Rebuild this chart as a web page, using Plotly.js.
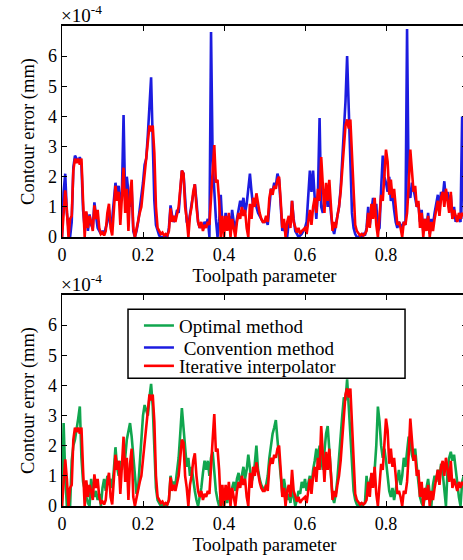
<!DOCTYPE html>
<html><head><meta charset="utf-8">
<script src="https://cdn.plot.ly/plotly-3.0.1.min.js"></script>
<style>html,body{margin:0;padding:0;overflow:hidden;background:#fff}#chart{width:480px;height:560px}</style>
</head><body><div id="chart"></div>
<script>
// Toolpath parameter sampling step (data sampled uniformly from 0 to 1)
const STEP = 0.004;
const xTickVals = [0, 0.2, 0.4, 0.6, 0.8, 1];
const xTickText = ['0', '0.2', '0.4', '0.6', '0.8', '1'];
const yTickVals = [0, 1, 2, 3, 4, 5, 6];
const nameOptimal = 'Optimal method';
const nameConvention = '\u00a0Convention method';
const nameIterative = 'Iterative interpolator';

// Contour error, in units of 1e-4 mm
const convErr = [
0.0,1.5,2.1,0.8,0.3,0.0,0.5,2.3,2.7,2.6,2.5,2.65,2.4,0.9,0.3,0.8,0.2,0.75,0.4,0.3,1.15,0.7,0.3,0.2,0.1,
0.2,0.1,0.3,0.5,0.9,0.4,0.6,1.2,1.8,1.4,1.7,1.0,1.5,4.05,1.2,2.0,1.5,1.0,1.6,0.2,0.0,0.2,0.5,0.9,1.3,
1.8,2.4,2.6,3.4,4.6,5.3,3.2,1.2,0.4,0.2,0.05,0.0,0.0,0.0,0.05,0.0,0.3,1.05,0.7,0.5,0.6,0.9,0.8,1.5,2.2,
2.1,1.2,0.5,0.4,0.8,1.1,1.4,1.75,1.2,0.5,0.3,0.4,0.3,0.5,0.4,0.6,0.0,6.8,2.5,1.5,0.6,0.0,0.5,1.4,0.4,
0.2,0.8,0.4,0.7,0.2,0.9,0.5,0.3,0.6,0.9,1.2,1.0,1.3,0.8,1.1,1.6,2.1,1.5,1.0,1.2,1.0,0.8,0.7,0.6,0.5,
0.5,0.6,0.4,1.1,1.6,1.5,1.8,1.7,2.1,1.9,0.9,0.2,0.4,0.1,0.0,0.5,0.4,1.2,0.6,0.2,0.1,0.0,0.05,0.1,0.2,
0.3,0.5,1.2,2.2,1.5,2.2,1.3,0.6,1.5,3.95,1.0,0.8,1.2,1.5,1.0,1.4,0.8,0.3,0.1,0.4,0.7,1.0,1.6,2.5,3.2,
4.5,6.0,4.2,2.2,0.8,0.3,0.1,0.0,0.0,0.05,0.0,0.1,0.05,0.3,1.0,0.4,0.9,1.3,0.7,1.1,0.2,0.3,1.6,2.7,2.0,
1.8,1.5,2.0,1.2,1.4,0.9,0.5,0.3,0.5,0.4,0.3,0.5,0.4,6.9,1.5,1.3,1.8,1.6,1.3,1.0,1.1,0.5,0.9,0.2,0.6,
0.3,0.8,0.1,0.6,0.4,0.8,1.1,1.4,0.9,1.5,1.3,1.85,1.2,1.5,1.0,1.4,0.6,1.0,0.5,0.7,0.6,0.5,4.0,0.6,0.8,0.7
];
const iterErr = [
0.0,1.0,1.55,0.9,0.0,0.6,0.7,2.2,2.6,2.45,2.6,2.4,2.6,1.2,0.0,0.85,0.3,0.7,0.5,0.2,1.05,0.6,0.9,0.3,0.1,
0.15,0.05,0.2,0.8,1.1,0.3,0.05,0.9,1.7,1.2,1.5,0.4,1.6,2.3,0.8,1.6,0.2,1.4,1.9,0.3,0.0,0.3,0.6,0.8,1.0,
1.5,2.2,2.5,3.2,3.7,3.5,3.7,2.8,1.0,0.3,0.2,0.1,0.15,0.05,0.1,0.05,0.2,0.95,0.5,0.7,0.5,0.8,1.0,1.6,2.2,
2.1,1.0,0.6,0.0,0.7,1.0,1.5,1.75,1.0,0.5,0.3,0.5,0.2,0.4,0.3,0.5,0.4,1.5,2.2,3.05,1.8,1.9,1.2,0.0,0.7,
0.0,0.7,0.2,0.8,0.0,0.6,0.3,0.0,0.5,0.8,0.6,1.0,0.7,0.9,0.3,0.0,1.1,0.6,1.3,1.0,1.45,1.1,0.8,0.6,0.5,
0.5,0.7,0.5,1.3,1.6,1.4,1.7,1.6,1.9,2.0,1.2,0.3,0.6,0.0,0.5,0.7,0.3,1.2,0.5,0.3,0.15,0.3,0.1,0.2,0.25,
0.3,0.1,0.6,0.9,0.4,1.0,1.3,0.8,1.6,1.2,2.65,1.5,0.8,1.8,1.2,1.9,0.9,0.2,0.5,0.3,0.7,1.0,1.5,2.2,3.0,
3.7,3.9,3.6,3.9,2.8,1.4,0.4,0.2,0.1,0.05,0.1,0.05,0.1,0.2,0.8,0.3,1.1,0.6,1.3,0.4,0.0,0.6,1.4,1.2,2.2,
2.9,2.5,1.4,1.9,1.3,1.6,0.9,0.4,0.5,0.3,0.0,0.5,0.4,0.8,1.7,2.9,2.2,1.5,1.7,1.0,1.2,0.3,0.8,0.0,0.6,
0.2,0.7,0.0,0.5,0.2,0.6,0.9,1.2,0.7,1.3,1.5,1.0,1.6,1.1,0.8,1.5,0.6,0.9,0.7,0.5,0.8,0.6,0.8,0.7,0.9,0.7
];
const optErr = [
0.0,2.75,1.0,0.0,0.1,0.0,1.5,2.0,2.2,2.5,2.9,3.3,1.6,0.8,0.5,0.3,0.1,0.0,0.9,0.5,0.3,0.5,0.2,0.4,0.0,
0.6,0.9,0.5,1.0,0.7,0.9,0.6,1.2,1.95,1.3,1.0,1.5,1.2,1.8,1.6,2.2,2.5,2.75,2.3,1.7,0.9,0.4,0.6,1.5,2.4,
3.0,3.35,3.2,3.0,3.6,4.05,3.3,2.0,0.6,0.2,0.1,0.0,0.05,0.0,0.0,0.05,0.2,1.0,0.7,0.8,0.7,1.2,1.6,2.4,3.25,
2.6,1.8,1.3,1.6,1.0,1.3,0.8,0.5,0.2,0.0,0.3,0.6,1.1,1.5,1.2,1.5,1.0,1.6,1.8,1.2,0.5,0.2,0.0,0.3,0.1,
0.0,0.4,0.1,0.5,0.2,0.6,0.8,0.5,0.9,1.1,0.7,1.0,1.3,0.9,1.2,1.7,1.3,0.8,1.0,1.4,2.0,1.2,0.9,0.7,0.6,
0.5,0.7,1.0,1.6,2.0,2.4,2.6,2.85,2.2,1.5,0.9,0.4,0.9,0.5,0.2,0.4,0.1,0.6,0.3,0.0,0.2,0.5,0.4,0.8,0.6,
0.9,0.5,0.8,1.0,0.6,1.2,1.5,1.9,1.4,2.0,1.6,1.2,1.8,2.4,2.65,1.8,0.9,0.3,0.1,0.4,0.9,1.5,2.3,3.0,3.6,
3.5,4.2,3.3,2.2,1.2,0.5,0.2,0.05,0.0,0.1,0.0,0.05,0.1,1.0,0.4,0.8,1.0,0.7,1.2,2.0,3.3,2.8,2.0,1.6,1.9,
1.5,1.0,0.5,0.3,0.6,0.2,0.5,0.8,1.2,0.7,1.0,1.6,1.3,1.8,2.3,2.1,1.7,1.5,1.9,1.3,0.8,0.3,0.1,0.0,0.3,
0.6,0.9,0.4,0.0,0.7,1.0,0.8,1.2,0.9,1.4,1.1,0.5,0.0,1.2,1.6,1.8,1.5,1.7,1.2,0.9,0.3,0.0,0.8,1.0,0.9,0.8
];

const FONT = 'Liberation Serif, Times New Roman, serif';
const BLUE = '#1c1ce0', RED = '#ff0000', GREEN = '#10a64e';
const LW = 2.6;

const traces = [
  {type:'scatter', mode:'lines', x0:0, dx:STEP, y:convErr, xaxis:'x', yaxis:'y',
   name:nameConvention, legend:'legend2', line:{color:BLUE, width:LW}},
  {type:'scatter', mode:'lines', x0:0, dx:STEP, y:iterErr, xaxis:'x', yaxis:'y',
   name:nameIterative, showlegend:false, line:{color:RED, width:LW}},
  {type:'scatter', mode:'lines', x0:0, dx:STEP, y:optErr, xaxis:'x2', yaxis:'y2',
   name:nameOptimal, legend:'legend', line:{color:GREEN, width:LW}},
  {type:'scatter', mode:'lines', x0:0, dx:STEP, y:iterErr, xaxis:'x2', yaxis:'y2',
   name:nameIterative, legend:'legend3', line:{color:RED, width:LW}}
];

function xAxis(anchor) {
  return {anchor:anchor, domain:[0,1], range:[0,1], tickvals:xTickVals, ticktext:xTickText,
    ticks:'inside', ticklen:5, tickwidth:1, tickcolor:'#000', showline:true, linecolor:'#000',
    linewidth:2, mirror:'ticks', showgrid:false, zeroline:false, automargin:false,
    tickfont:{family:FONT, size:18, color:'#000'},
    title:{text:'Toolpath parameter', font:{family:FONT, size:18.5, color:'#000'}, standoff:5}};
}
function yAxis(anchor, domain) {
  return {anchor:anchor, domain:domain, range:[0,7], tickvals:yTickVals,
    ticks:'inside', ticklen:5, tickwidth:1, tickcolor:'#000', showline:true, linecolor:'#000',
    linewidth:1.5, mirror:'ticks', showgrid:false, zeroline:false, automargin:false,
    tickfont:{family:FONT, size:18, color:'#000'},
    title:{text:'Contour error (mm)', font:{family:FONT, size:18.5, color:'#000'}, standoff:8}};
}
function legendAt(y) {
  return {x:0.190, y:y, xanchor:'left', yanchor:'middle', bgcolor:'rgba(0,0,0,0)', borderwidth:0,
    font:{family:FONT, size:19, color:'#000'}};
}

const layout = {
  width:480, height:560,
  margin:{l:62, r:13, t:26, b:54},
  paper_bgcolor:'#fff', plot_bgcolor:'#fff',
  xaxis:xAxis('y'), yaxis:yAxis('x', [0.5604, 1]),
  xaxis2:xAxis('y2'), yaxis2:yAxis('x2', [0, 0.4396]),
  legend:legendAt(0.3756), legend2:legendAt(0.3298), legend3:legendAt(0.2917),
  shapes:[{type:'rect', xref:'paper', yref:'paper', x0:0.163, x1:0.847, y0:0.266, y1:0.41,
    fillcolor:'#fff', line:{color:'#000', width:1.5}, layer:'above'}],
  annotations:[
    {xref:'paper', yref:'paper', x:0, y:1, xanchor:'left', yanchor:'bottom', showarrow:false,
     xshift:-3, yshift:-2, text:'×10<sup>-4</sup>', font:{family:FONT, size:19, color:'#000'}},
    {xref:'paper', yref:'paper', x:0, y:0.4396, xanchor:'left', yanchor:'bottom', showarrow:false,
     xshift:-3, yshift:-2, text:'×10<sup>-4</sup>', font:{family:FONT, size:19, color:'#000'}}
  ]
};

Plotly.newPlot('chart', traces, layout, {staticPlot:true, displayModeBar:false});
</script></body></html>
